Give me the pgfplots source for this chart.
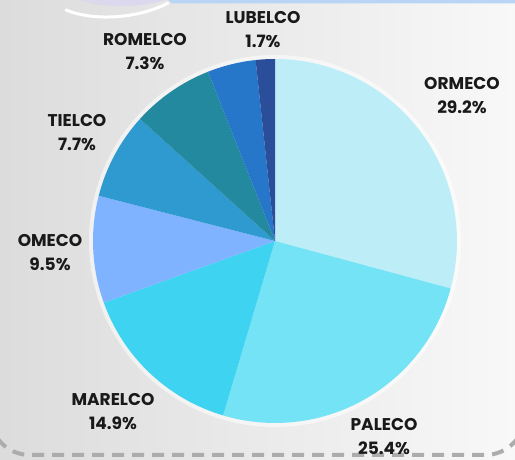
\documentclass[border=0pt]{standalone}
\usepackage{pgfplots}
\pgfplotsset{compat=1.18}
\usepackage{pgfplotstable}
\usepackage{fontspec}
\setmainfont{Poppins}

\definecolor{cOrmeco}{HTML}{BDEEF7}
\definecolor{cPaleco}{HTML}{73E3F5}
\definecolor{cMarelco}{HTML}{3FD3F2}
\definecolor{cOmeco}{HTML}{80B3FF}
\definecolor{cTielco}{HTML}{2E9AD0}
\definecolor{cRomelco}{HTML}{23899F}
\definecolor{cOther}{HTML}{2676C9}
\definecolor{cLubelco}{HTML}{2A4E99}
\definecolor{bgL}{HTML}{DCDCDC}
\definecolor{bgR}{HTML}{F8F8F8}
\definecolor{topblue}{HTML}{B9D5F4}
\definecolor{lav}{HTML}{DCD8EE}

% share (percent), colour, label position (px from left, from bottom)
\pgfplotstableread{
name    value color    lx  ly
ORMECO  29.2  cOrmeco  462 364
PALECO  25.4  cPaleco  384 23
MARELCO 14.9  cMarelco 113 48.5
OMECO   9.5   cOmeco   50  207.5
TIELCO  7.7   cTielco  77  327.5
ROMELCO 7.3   cRomelco 145 408
OTHER   4.3   cOther   -1  -1
LUBELCO 1.7   cLubelco 263 430
}\shares

\def\cx{275}
\def\cy{219}
\def\rr{182}

\begin{document}
\begin{tikzpicture}
\begin{axis}[
  x=1pt, y=1pt,
  xmin=0, xmax=515, ymin=0, ymax=460,
  hide axis, clip=false,
]
% panel background
\shade[left color=bgL, right color=bgR] (axis cs:0,0) rectangle (axis cs:515,460);
\fill[lav] (axis cs:80,460) .. controls (axis cs:100,452) and (axis cs:140,452) .. (axis cs:165,460) -- cycle;
\fill[topblue] (axis cs:168,460) -- (axis cs:515,460) -- (axis cs:515,456.5) -- (axis cs:172,456.5) -- cycle;
\draw[white, line width=3pt, line cap=round] (axis cs:66,450) .. controls (axis cs:95,438) and (axis cs:140,442) .. (axis cs:168,457);
\draw[overlay, gray!65, line width=4pt, dash pattern=on 12pt off 8pt, rounded corners=40pt]
  (axis cs:-10,300) -- (axis cs:-10,5) -- (axis cs:525,5) -- (axis cs:525,300);
% soft halo behind the pie
\fill[white, opacity=0.55] (axis cs:\cx,\cy) circle[radius=186pt];

\gdef\cum{0}
\pgfplotsforeachungrouped \i in {0,...,7}{%
  \pgfplotstablegetelem{\i}{value}\of\shares \let\v\pgfplotsretval
  \pgfplotstablegetelem{\i}{color}\of\shares \let\c\pgfplotsretval
  \pgfplotstablegetelem{\i}{name}\of\shares \let\n\pgfplotsretval
  \pgfplotstablegetelem{\i}{lx}\of\shares \let\lx\pgfplotsretval
  \pgfplotstablegetelem{\i}{ly}\of\shares \let\ly\pgfplotsretval
  \pgfmathsetmacro\aA{90-3.6*\cum}
  \pgfmathsetmacro\aB{\aA-3.6*\v}
  \pgfmathsetmacro\xs{\cx+\rr*cos(\aA)}
  \pgfmathsetmacro\ys{\cy+\rr*sin(\aA)}
  \pgfmathsetmacro\newcum{\cum+\v}
  \xdef\cum{\newcum}
  \edef\tmp{\noexpand\fill[\c] (axis cs:\cx,\cy) -- (axis cs:\xs,\ys)
    arc[start angle=\aA, end angle=\aB, radius=\rr pt] -- cycle;}
  \tmp
  \pgfmathparse{\lx>0 ? 1 : 0}
  \ifnum\pgfmathresult=1
    \edef\tmp{\noexpand\node[align=center, font=\noexpand\fontsize{17}{24}\noexpand\selectfont\noexpand\bfseries, text=black!90]
      at (axis cs:\lx,\ly) {\n\noexpand\\\v\noexpand\%};}
    \tmp
  \fi
}
\end{axis}
\end{tikzpicture}
\end{document}
